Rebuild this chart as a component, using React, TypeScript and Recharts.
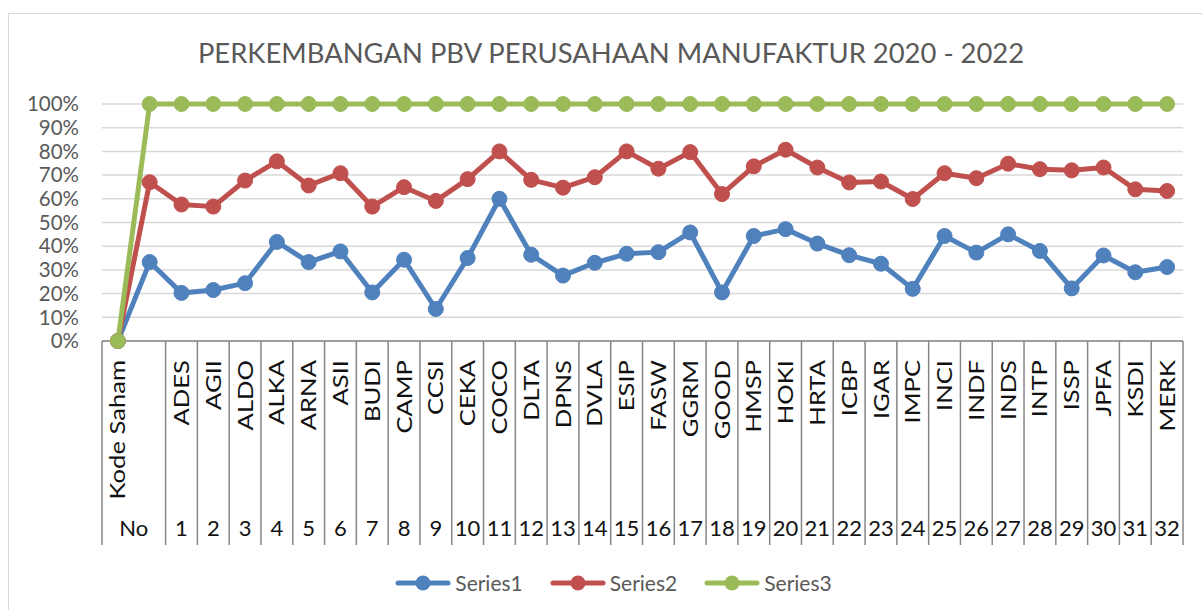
import { CartesianGrid, Legend, Line, LineChart, XAxis, YAxis } from "recharts";

const codes = [
  "Kode Saham", "",
  "ADES", "AGII", "ALDO", "ALKA", "ARNA", "ASII", "BUDI", "CAMP", "CCSI", "CEKA",
  "COCO", "DLTA", "DPNS", "DVLA", "ESIP", "FASW", "GGRM", "GOOD", "HMSP", "HOKI",
  "HRTA", "ICBP", "IGAR", "IMPC", "INCI", "INDF", "INDS", "INTP", "ISSP", "JPFA",
  "KSDI", "MERK",
];

const numbers = [
  "No", "",
  "1", "2", "3", "4", "5", "6", "7", "8", "9", "10",
  "11", "12", "13", "14", "15", "16", "17", "18", "19", "20",
  "21", "22", "23", "24", "25", "26", "27", "28", "29", "30",
  "31", "32",
];

const series1 = [
  0, 33.3,
  20.3, 21.5, 24.4, 41.8, 33.3, 37.8, 20.5, 34.3, 13.5, 35,
  60, 36.4, 27.6, 33, 36.8, 37.5, 45.8, 20.5, 44.3, 47.2,
  41.1, 36.2, 32.6, 22, 44.3, 37.3, 45, 38, 22.2, 36.1,
  29, 31.2,
];

const series2 = [
  0, 67,
  57.6, 56.7, 67.7, 75.8, 65.6, 70.8, 56.7, 64.9, 59.1, 68.3,
  80, 68, 64.7, 69.1, 80, 72.7, 79.7, 62, 73.7, 80.7,
  73.2, 66.9, 67.3, 59.9, 70.8, 68.7, 74.8, 72.5, 72, 73.2,
  64, 63.3,
];

const series3 = [
  0, 100,
  100, 100, 100, 100, 100, 100, 100, 100, 100, 100,
  100, 100, 100, 100, 100, 100, 100, 100, 100, 100,
  100, 100, 100, 100, 100, 100, 100, 100, 100, 100,
  100, 100,
];

const yTicks = [0, 10, 20, 30, 40, 50, 60, 70, 80, 90, 100];

const data = codes.map((kode, i) => ({
  id: i,
  kode,
  no: numbers[i],
  s1: series1[i],
  s2: series2[i],
  s3: series3[i],
}));

const FONT = "Lato, 'Open Sans', sans-serif";
const AXIS = "#868686";

const CategoryTick = (props: any) => {
  const { x, y, index, width, visibleTicksCount } = props;
  const band = width && visibleTicksCount ? width / visibleTicksCount : 1081 / codes.length;
  const left = x - band / 2;
  const code = codes[index];
  const no = numbers[index];
  // "No" header spans two cells (merged with the empty one after it)
  const noX = numbers[index + 1] === "" ? x + band / 2 : x;
  return (
    <g>
      {index !== 1 && (
        <line x1={left} x2={left} y1={y} y2={y + 204} stroke={AXIS} strokeWidth={1.5} />
      )}
      {index === codes.length - 1 && (
        <line x1={left + band} x2={left + band} y1={y} y2={y + 204} stroke={AXIS} strokeWidth={1.5} />
      )}
      {code && (
        <g transform={`translate(${x} ${y + 19}) rotate(-90) scale(1.22 1)`}>
          <text x={0} y={0} dy="0.36em" textAnchor="end" fontSize={21} fontFamily={FONT} fill="#111">
            {code}
          </text>
        </g>
      )}
      {no && (
        <text x={noX} y={y + 195} textAnchor="middle" fontSize={22} fontFamily={FONT} fill="#111">
          {no}
        </text>
      )}
    </g>
  );
};

const LegendContent = ({ payload }: any) => (
  <div
    style={{
      display: "flex",
      justifyContent: "center",
      gap: 27,
      paddingLeft: 25,
      fontFamily: FONT,
      fontSize: 21,
      color: "#595959",
    }}
  >
    {(payload || []).map((entry: any) => (
      <div key={entry.value} style={{ display: "flex", alignItems: "center" }}>
        <svg width={56} height={18} style={{ marginRight: 4 }}>
          <line x1={3} x2={53} y1={9} y2={9} stroke={entry.color} strokeWidth={5} strokeLinecap="round" />
          <circle cx={28} cy={9} r={7.5} fill={entry.color} />
        </svg>
        <span>{entry.value}</span>
      </div>
    ))}
  </div>
);

const App = () => {
  return (
    <div style={{ position: "relative", width: 1202, height: 610, overflow: "hidden", background: "#fff" }}>
      <style>{"body{margin:0;overflow:hidden}"}</style>
      <div
        style={{
          position: "absolute",
          left: 8,
          top: 13,
          width: 1300,
          height: 700,
          border: "1.5px solid #d9d9d9",
        }}
      />
      <div
        style={{
          position: "absolute",
          left: 10,
          top: 39,
          width: 1202,
          textAlign: "center",
          fontFamily: FONT,
          fontSize: 27.4,
          lineHeight: "27px",
          color: "#595959",
        }}
      >
        PERKEMBANGAN PBV PERUSAHAAN MANUFAKTUR 2020 - 2022
      </div>
      <div style={{ position: "absolute", left: 0, top: 0 }}>
        <LineChart width={1202} height={610} data={data} margin={{ top: 104, right: 19, left: 0, bottom: 10 }}>
          <CartesianGrid vertical={false} stroke="#d9d9d9" strokeWidth={1.5} />
          <XAxis
            dataKey="id"
            type="category"
            scale="band"
            interval={0}
            height={259}
            tickLine={false}
            tickSize={0}
            tickMargin={0}
            axisLine={{ stroke: AXIS, strokeWidth: 1.5 }}
            tick={<CategoryTick />}
          />
          <YAxis
            domain={[0, 100]}
            ticks={yTicks}
            interval={0}
            width={102}
            axisLine={false}
            tickLine={false}
            tickMargin={17}
            tickFormatter={(v: number) => `${v}%`}
            tick={{ fill: "#595959", fontSize: 20.5, fontFamily: FONT }}
          />
          <Legend
            verticalAlign="middle"
            align="center"
            wrapperStyle={{ position: "absolute", top: 570, left: 0, width: 1202 }}
            content={<LegendContent />}
          />
          <Line
            dataKey="s1"
            name="Series1"
            stroke="#4F81BD"
            strokeWidth={5}
            strokeLinejoin="round"
            dot={{ r: 7.5, fill: "#4F81BD", stroke: "#4F81BD", strokeWidth: 1 }}
            activeDot={false}
            isAnimationActive={false}
          />
          <Line
            dataKey="s2"
            name="Series2"
            stroke="#C0504D"
            strokeWidth={5}
            strokeLinejoin="round"
            dot={{ r: 7.5, fill: "#C0504D", stroke: "#C0504D", strokeWidth: 1 }}
            activeDot={false}
            isAnimationActive={false}
          />
          <Line
            dataKey="s3"
            name="Series3"
            stroke="#9BBB59"
            strokeWidth={5}
            strokeLinejoin="round"
            dot={{ r: 7.5, fill: "#9BBB59", stroke: "#9BBB59", strokeWidth: 1 }}
            activeDot={false}
            isAnimationActive={false}
          />
        </LineChart>
      </div>
    </div>
  );
};

export default App;
